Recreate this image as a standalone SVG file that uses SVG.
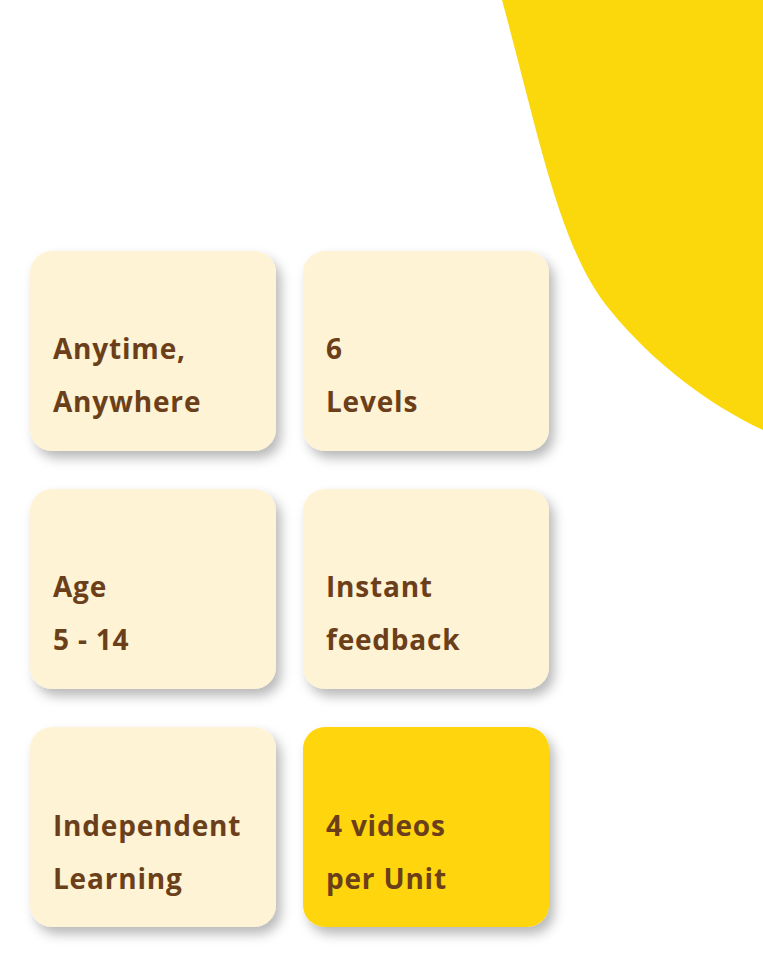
<svg xmlns="http://www.w3.org/2000/svg" width="763" height="968" viewBox="0 0 763 968">
<defs>
<filter id="sh" x="-20%" y="-20%" width="150%" height="150%">
<feDropShadow dx="5" dy="7" stdDeviation="6" flood-color="#000" flood-opacity="0.28"/>
</filter>
<style>
.card{fill:#FEF3D4;filter:url(#sh)}
.hl{fill:#FFD60A;filter:url(#sh)}
.t{font-family:"Open Sans",Lato,sans-serif;font-weight:700;font-size:28px;letter-spacing:0.8px;fill:#6B3F1A}
</style>
</defs>
<rect width="763" height="968" fill="#fff"/>
<path id="blob" d="M502,0 C540,140 560,250 610,310 C655,365 710,405 763,430 L763,0 Z" fill="#FAD80C"/>
<g id="n1"><rect class="card" x="30" y="251" width="246" height="200" rx="22"/><text class="t" x="53" y="359">Anytime,</text><text class="t" x="53" y="412">Anywhere</text></g>
<g id="n2"><rect class="card" x="303" y="251" width="246" height="200" rx="22"/><text class="t" x="326" y="359">6</text><text class="t" x="326" y="412">Levels</text></g>
<g id="n3"><rect class="card" x="30" y="489" width="246" height="200" rx="22"/><text class="t" x="53" y="597">Age</text><text class="t" x="53" y="650">5 - 14</text></g>
<g id="n4"><rect class="card" x="303" y="489" width="246" height="200" rx="22"/><text class="t" x="326" y="597">Instant</text><text class="t" x="326" y="650">feedback</text></g>
<g id="n5"><rect class="card" x="30" y="727" width="246" height="200" rx="22"/><text class="t" x="53" y="836">Independent</text><text class="t" x="53" y="889">Learning</text></g>
<g id="n6"><rect class="hl" x="303" y="727" width="246" height="200" rx="22"/><text class="t" x="326" y="836">4 videos</text><text class="t" x="326" y="889">per Unit</text></g>
<g id="connectors"/>
</svg>
